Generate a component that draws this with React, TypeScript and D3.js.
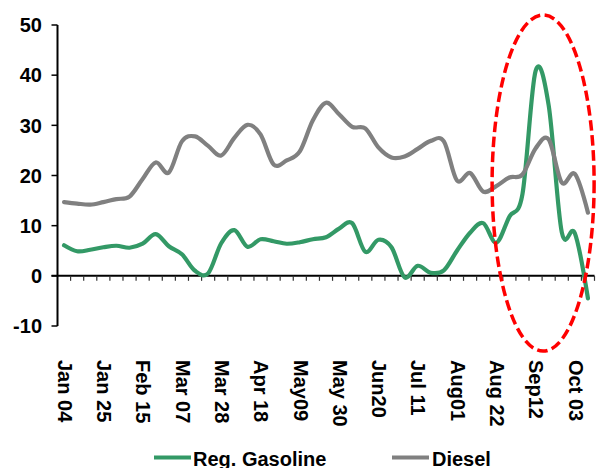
import React from "react";
import * as d3 from "d3";

// Weekly observation dates; every third one is labelled on the axis.
const weeks: string[] = [
  "Jan 04", "Jan 11", "Jan 18", "Jan 25", "Feb 01", "Feb 08", "Feb 15", "Feb 22", "Feb 29",
  "Mar 07", "Mar 14", "Mar 21", "Mar 28", "Apr 04", "Apr 11", "Apr 18", "Apr 25", "May 02",
  "May09", "May 16", "May 23", "May 30", "Jun 06", "Jun 13", "Jun20", "Jun 27", "Jul 04",
  "Jul 11", "Jul 18", "Jul 25", "Aug01", "Aug 08", "Aug 15", "Aug 22", "Aug 29", "Sep 05",
  "Sep12", "Sep 19", "Sep 26", "Oct 03", "Oct 10",
];

const gasoline: number[] = [
  6.1, 4.9, 5.2, 5.7, 6.0, 5.6, 6.4, 8.3, 5.9, 4.3,
  1.0, 0.5, 6.5, 9.1, 5.8, 7.3, 6.9, 6.4, 6.7, 7.3,
  7.7, 9.4, 10.5, 4.8, 7.2, 5.7, -0.3, 2.0, 0.6, 1.1,
  5.0, 8.6, 10.5, 6.6, 11.8, 16.3, 40.8, 34.0, 8.7, 8.5,
  -4.5,
];

const diesel: number[] = [
  14.7, 14.4, 14.2, 14.7, 15.3, 15.8, 19.3, 22.6, 20.6, 26.8,
  27.8, 25.9, 24.0, 27.5, 30.1, 28.2, 22.2, 23.0, 24.8, 31.0,
  34.5, 32.2, 29.7, 29.4, 25.6, 23.6, 23.8, 25.3, 26.9, 26.8,
  19.0, 20.5, 16.8, 17.9, 19.6, 20.2, 25.4, 27.2, 18.6, 20.3,
  12.6,
];

const yTicks: number[] = [-10, 0, 10, 20, 30, 40, 50];
const labelStep = 3;

const seriesNames = ["Reg. Gasoline", "Diesel"];
const seriesColors = ["#339966", "#808080"];

const W = 611;
const H = 468;
const FONT = "'Liberation Sans', Arial, sans-serif";

export default function App() {
  const x = d3
    .scaleBand<number>()
    .domain(weeks.map((_, i) => i))
    .range([57.5, 594.5])
    .padding(0);
  const bw = x.bandwidth();
  const cx = (i: number) => (x(i) as number) + bw / 2;

  const y = d3.scaleLinear().domain([-10, 50]).range([326, 25]);

  const line = d3
    .line<number>()
    .x((_, i) => cx(i))
    .y((v) => y(v))
    .curve(d3.curveCardinal.tension(0));

  const series = [gasoline, diesel];

  // Highlight ring around the September spike
  const ringCx = (cx(36) + cx(37)) / 2 + 1;
  const ringCy = (y(52) + y(-15)) / 2;
  const ringRx = 51;
  const ringRy = (y(-15) - y(52)) / 2;

  const axisX = 57.5;

  return (
    <svg
      width={W}
      height={H}
      style={{ position: "absolute", left: 0, top: 0, background: "#fff" }}
      fontFamily={FONT}
      fontWeight="bold"
    >
      {/* y axis */}
      <line x1={axisX} x2={axisX} y1={y(50)} y2={y(-10)} stroke="#000" strokeWidth={2} />
      {yTicks.map((t) => (
        <g key={t}>
          <line x1={axisX - 6} x2={axisX} y1={y(t)} y2={y(t)} stroke="#000" strokeWidth={1.5} />
          <text x={42} y={y(t)} dy="0.36em" textAnchor="end" fontSize={20} fill="#000">
            {t}
          </text>
        </g>
      ))}

      {/* x axis along zero */}
      <line x1={axisX - 6} x2={594.5} y1={y(0)} y2={y(0)} stroke="#000" strokeWidth={2} />
      {weeks.map((_, i) => (
        <line
          key={i}
          x1={(x(i) as number) + bw}
          x2={(x(i) as number) + bw}
          y1={y(0)}
          y2={y(0) + 5}
          stroke="#333"
          strokeWidth={1.2}
        />
      ))}
      {weeks.map((w, i) =>
        i % labelStep === 0 ? (
          <text
            key={w}
            transform={`translate(${cx(i) + 1},360) rotate(90)`}
            dy="0.36em"
            fontSize={20}
            fill="#000"
          >
            {w}
          </text>
        ) : null
      )}

      {/* data lines */}
      {series.map((s, k) => (
        <path
          key={seriesNames[k]}
          d={line(s) || ""}
          fill="none"
          stroke={seriesColors[k]}
          strokeWidth={4.2}
          strokeLinejoin="round"
          strokeLinecap="round"
        />
      ))}

      {/* highlight ring */}
      <ellipse
        cx={ringCx}
        cy={ringCy}
        rx={ringRx}
        ry={ringRy}
        fill="none"
        stroke="#ff0000"
        strokeWidth={3.5}
        strokeDasharray="10.5 4.5"
      />

      {/* legend */}
      {[
        { x: 154, tx: 193 },
        { x: 392, tx: 432 },
      ].map((p, k) => (
        <g key={seriesNames[k]}>
          <line x1={p.x} x2={p.x + 37} y1={457.5} y2={457.5} stroke={seriesColors[k]} strokeWidth={4.2} />
          <text x={p.tx} y={466} fontSize={20} fill="#000">
            {seriesNames[k]}
          </text>
        </g>
      ))}
    </svg>
  );
}
